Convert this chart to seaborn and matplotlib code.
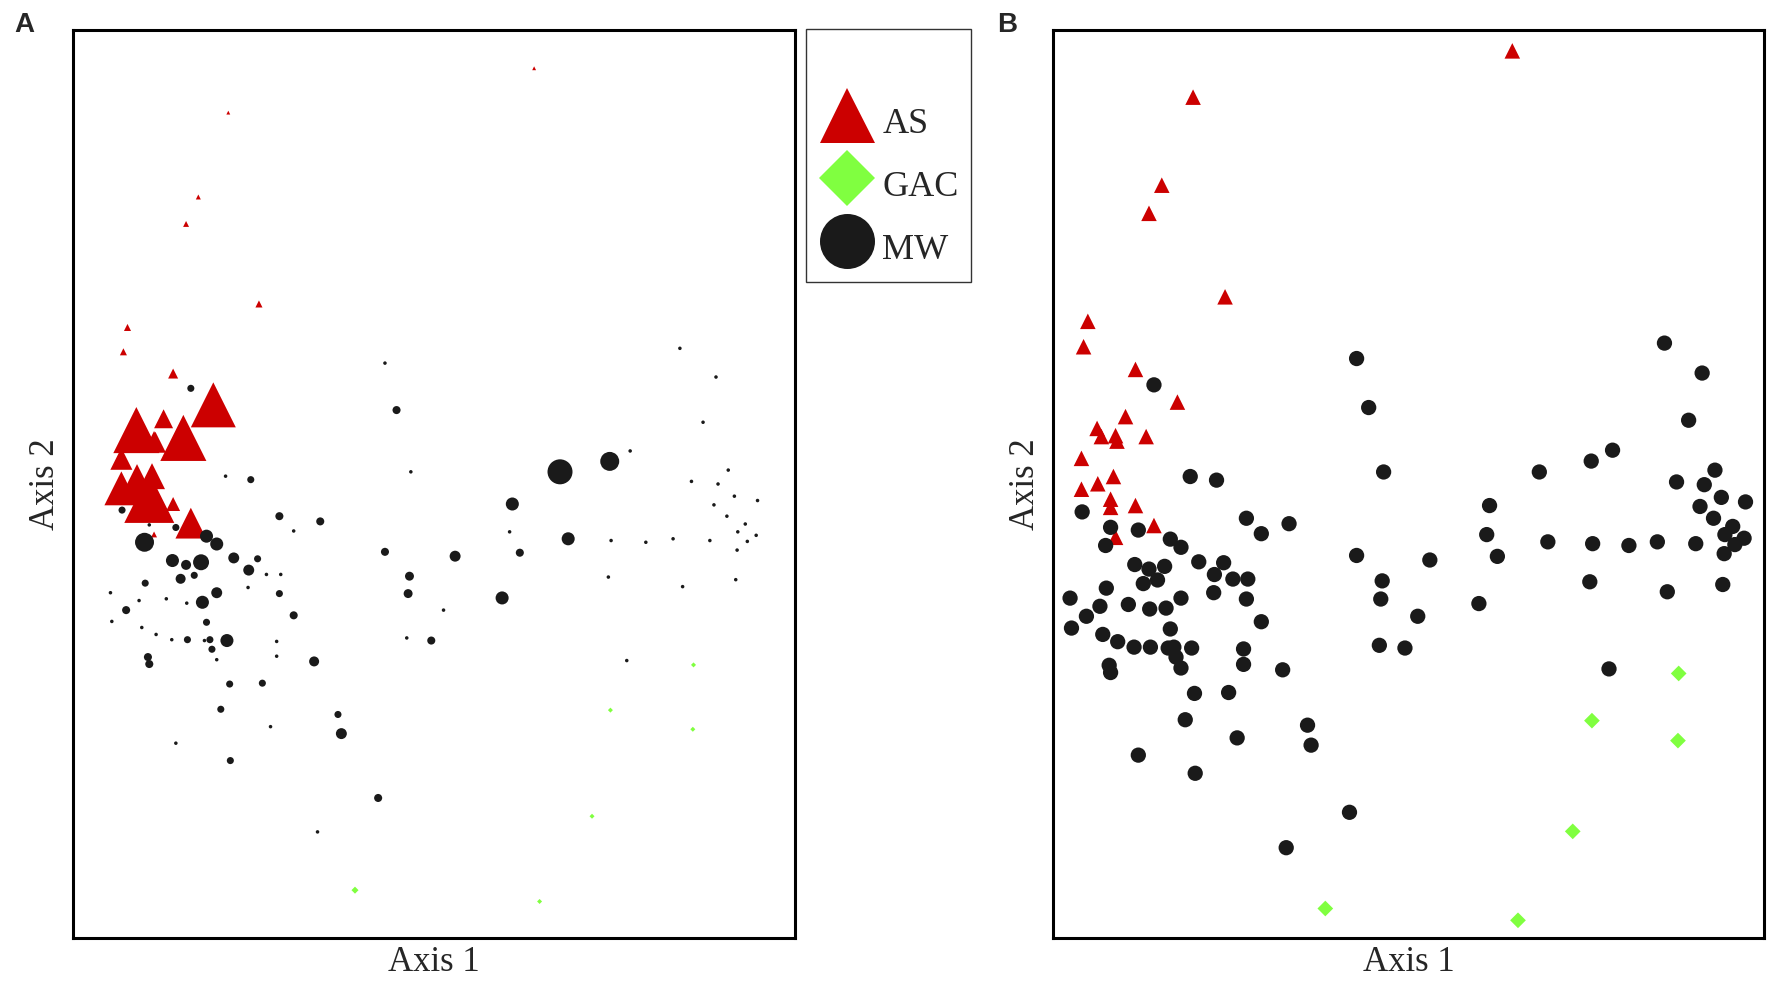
import pandas as pd
import matplotlib
matplotlib.use('Agg')
import matplotlib.pyplot as plt
from matplotlib.lines import Line2D
import seaborn as sns

# NMS scores (both axes rescaled 0-1 over panel B's frame)
# abund = overlay variable that sets symbol size in panel A
as_x = [0.646, 0.197, 0.153, 0.135, 0.242, 0.049, 0.043, 0.116, 0.175, 0.102,
        0.062, 0.068, 0.088, 0.090, 0.131, 0.040, 0.085, 0.040, 0.063, 0.081,
        0.081, 0.116, 0.142, 0.088]
as_y = [0.977, 0.926, 0.829, 0.798, 0.706, 0.679, 0.651, 0.626, 0.590, 0.574,
        0.561, 0.552, 0.553, 0.547, 0.552, 0.528, 0.508, 0.494, 0.500, 0.483,
        0.474, 0.476, 0.454, 0.441]
as_abund = [0.6, 0.6, 1.0, 1.4, 2.0, 2.0, 2.0, 4.0, 81, 14.4,
            85, 9, 5.8, 17.6, 85, 19.4, 27, 46, 58, 100,
            16, 7.8, 38, 1.4]

gac_x = [0.880, 0.758, 0.879, 0.731, 0.383, 0.654]
gac_y = [0.291, 0.239, 0.217, 0.117, 0.032, 0.019]
gac_abund = [0.5, 0.5, 0.5, 0.5, 1.0, 0.5]

mw_x = [0.142, 0.427, 0.444, 0.465, 0.193, 0.230, 0.041, 0.081, 0.120, 0.074,
        0.272, 0.293, 0.332, 0.165, 0.180, 0.427, 0.115, 0.135, 0.157, 0.205,
        0.240, 0.227, 0.253, 0.274, 0.127, 0.147, 0.075, 0.226, 0.272, 0.463,
        0.461, 0.024, 0.066, 0.106, 0.136, 0.159, 0.180, 0.047, 0.026, 0.293,
        0.165, 0.070, 0.091, 0.114, 0.137, 0.162, 0.170, 0.173, 0.180, 0.195,
        0.268, 0.268, 0.079, 0.081, 0.323, 0.459, 0.495, 0.199, 0.247, 0.186,
        0.259, 0.358, 0.363, 0.120, 0.200, 0.417, 0.328, 0.860, 0.913, 0.894,
        0.787, 0.757, 0.684, 0.931, 0.877, 0.916, 0.940, 0.974, 0.910, 0.929,
        0.956, 0.945, 0.972, 0.959, 0.944, 0.904, 0.850, 0.810, 0.759, 0.696,
        0.614, 0.610, 0.625, 0.530, 0.755, 0.864, 0.942, 0.599, 0.513, 0.782]
mw_y = [0.609, 0.638, 0.584, 0.513, 0.508, 0.504, 0.469, 0.452, 0.449, 0.432,
        0.462, 0.445, 0.456, 0.439, 0.430, 0.421, 0.411, 0.406, 0.409, 0.414,
        0.413, 0.400, 0.395, 0.395, 0.390, 0.394, 0.385, 0.380, 0.373, 0.393,
        0.373, 0.374, 0.365, 0.367, 0.362, 0.363, 0.374, 0.354, 0.341, 0.348,
        0.340, 0.334, 0.326, 0.320, 0.320, 0.319, 0.320, 0.309, 0.297, 0.319,
        0.318, 0.301, 0.300, 0.292, 0.295, 0.322, 0.319, 0.269, 0.270, 0.240,
        0.220, 0.234, 0.212, 0.201, 0.181, 0.138, 0.099, 0.655, 0.622, 0.570,
        0.537, 0.525, 0.513, 0.515, 0.502, 0.499, 0.485, 0.480, 0.475, 0.462,
        0.453, 0.444, 0.440, 0.433, 0.423, 0.434, 0.436, 0.432, 0.434, 0.436,
        0.476, 0.444, 0.420, 0.416, 0.392, 0.381, 0.389, 0.368, 0.354, 0.296]
mw_abund = [2.0, 0.5, 2.6, 0.5, 0.5, 2.0, 2.0, 0.5, 2.0, 14.4,
            2.6, 0.5, 2.6, 6.8, 6.8, 2.6, 6.8, 4.0, 10.2, 4.8,
            2.0, 4.8, 0.5, 0.5, 4.0, 2.0, 2.0, 0.5, 2.0, 3.2,
            3.2, 0.5, 0.5, 0.5, 0.5, 6.8, 4.8, 2.6, 0.5, 2.6,
            2.0, 0.5, 0.5, 0.5, 2.0, 0.5, 2.0, 2.0, 0.5, 6.8,
            0.5, 0.5, 2.6, 2.6, 4.0, 0.5, 2.6, 2.0, 2.0, 2.0,
            0.5, 2.0, 4.8, 0.5, 2.0, 2.6, 0.5, 0.5, 0.5, 0.5,
            0.5, 14.4, 25.0, 0.5, 0.5, 0.5, 0.5, 0.5, 0.5, 0.5,
            0.5, 0.5, 0.5, 0.5, 0.5, 0.5, 0.5, 0.5, 0.5, 6.8,
            6.8, 0.5, 2.6, 4.8, 0.5, 0.5, 0.5, 6.8, 0.5, 0.5]

groups = ['AS', 'GAC', 'MW']
palette = {'AS': '#cc0000', 'GAC': '#80ff40', 'MW': '#1a1a1a'}
markers = {'AS': '^', 'GAC': 'D', 'MW': 'o'}

df = pd.concat([
    pd.DataFrame({'axis1': as_x, 'axis2': as_y, 'abund': as_abund, 'group': 'AS'}),
    pd.DataFrame({'axis1': gac_x, 'axis2': gac_y, 'abund': gac_abund, 'group': 'GAC'}),
    pd.DataFrame({'axis1': mw_x, 'axis2': mw_y, 'abund': mw_abund, 'group': 'MW'}),
], ignore_index=True)

sns.set_style('white')
plt.rcParams['font.family'] = ['Liberation Serif', 'DejaVu Serif']

fig = plt.figure(figsize=(17.75, 9.83), dpi=100)
ax_a = fig.add_axes([73 / 1775, 1 - 938 / 983, 722 / 1775, 908 / 983])
ax_b = fig.add_axes([1053 / 1775, 1 - 938 / 983, 711 / 1775, 908 / 983])

# panel A: symbol size follows the overlay variable
sns.scatterplot(data=df, x='axis1', y='axis2', hue='group', style='group',
                size='abund', sizes=(0, 1296), size_norm=(0, 100),
                palette=palette, markers=markers, linewidth=0,
                legend=False, ax=ax_a)
ax_a.set_xlim(-0.031, 1.029)
ax_a.set_ylim(-0.023, 1.021)

# panel B: plain group symbols
sns.scatterplot(data=df, x='axis1', y='axis2', hue='group', style='group',
                size='group', sizes={'AS': 125, 'GAC': 64, 'MW': 121},
                palette=palette, markers=markers, linewidth=0,
                legend=False, ax=ax_b)
ax_b.set_xlim(0, 1)
ax_b.set_ylim(-0.0005, 1.0)

for ax in (ax_a, ax_b):
    ax.set_xticks([])
    ax.set_yticks([])
    ax.set_xlabel('Axis 1', fontsize=25, labelpad=6)
    ax.set_ylabel('Axis 2', fontsize=25, labelpad=8)
    for sp in ax.spines.values():
        sp.set_visible(True)
        sp.set_color('black')
        sp.set_linewidth(2.2)

fig.text(24 / 1775, 1 - 25 / 983, 'A', fontsize=20, fontweight='bold',
         family='Liberation Sans', ha='center', va='center')
fig.text(1007 / 1775, 1 - 25 / 983, 'B', fontsize=20, fontweight='bold',
         family='Liberation Sans', ha='center', va='center')

handles = [Line2D([], [], linestyle='none', marker=markers[g],
                  markerfacecolor=palette[g], markeredgewidth=0,
                  markersize=39.6 if g != 'GAC' else 28.5)
           for g in groups]
leg = fig.legend(handles, groups, loc='upper left',
                 bbox_to_anchor=(806 / 1775, 1 - 29 / 983),
                 fontsize=26, title=' ', title_fontsize=31,
                 frameon=True, fancybox=False, edgecolor='black',
                 borderpad=0.35, labelspacing=0.5, handleheight=1.54,
                 handlelength=1.56, handletextpad=0.2, borderaxespad=0)
leg.get_frame().set_linewidth(1.0)

fig.savefig('out.png', dpi=100)
